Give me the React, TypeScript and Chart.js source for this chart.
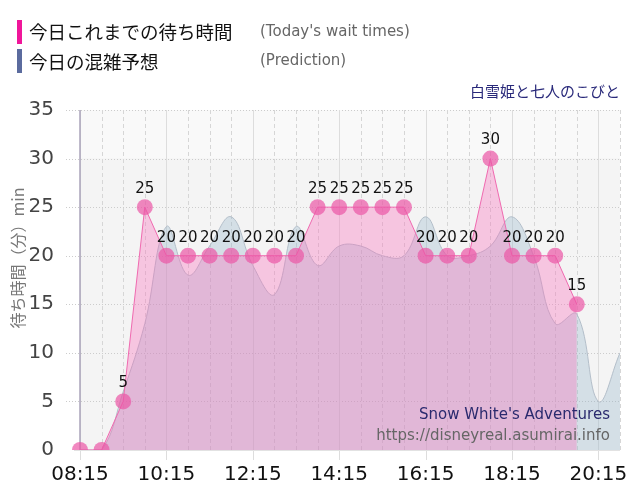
import { useEffect, useRef } from "react";
import { Chart, registerables } from "chart.js";

Chart.register(...registerables);

const times = [
  "08:15", "08:45", "09:15", "09:45", "10:15", "10:45", "11:15", "11:45",
  "12:15", "12:45", "13:15", "13:45", "14:15", "14:45", "15:15", "15:45",
  "16:15", "16:45", "17:15", "17:45", "18:15", "18:45", "19:15", "19:45",
  "20:15", "20:45",
];

// today's actual wait (min)
const waitTimes = [
  0, 0, 5, 25, 20, 20, 20, 20, 20, 20, 20, 25, 25, 25, 25, 25, 20, 20, 20, 30,
  20, 20, 20, 15, null, null,
];

// predicted congestion (min)
const prediction = [
  0, 0, 6, 13, 23, 18, 21, 24, 19, 16, 23, 19, 21, 21, 20, 20, 24, 20, 20, 21,
  24, 20, 13, 14, 5, 10,
];

const yTicks = [0, 5, 10, 15, 20, 25, 30, 35];

const LATIN = "'DejaVu Sans', sans-serif";
const CJK = "'Noto Sans CJK JP', sans-serif";

const backdrop = {
  id: "backdrop",
  beforeDatasetsDraw(chart: any) {
    const { ctx, chartArea: a, scales } = chart;
    const x = scales.x;
    const y = scales.y;
    ctx.save();
    ctx.fillStyle = "#f4f4f4";
    ctx.fillRect(a.left, a.top, a.right - a.left, a.bottom - a.top);
    ctx.fillStyle = "#f9f9f9";
    ctx.fillRect(a.left, a.top, a.right - a.left, y.getPixelForValue(30) - a.top);

    ctx.lineWidth = 1;
    // horizontal dotted lines
    ctx.strokeStyle = "#cccccc";
    ctx.setLineDash([1, 2]);
    yTicks.forEach((v) => {
      if (v === 0) return;
      const py = Math.round(y.getPixelForValue(v)) + 0.5;
      ctx.beginPath();
      ctx.moveTo(a.left - 14, py);
      ctx.lineTo(a.right, py);
      ctx.stroke();
    });

    // vertical lines
    times.forEach((_, i) => {
      const px = Math.round(x.getPixelForValue(i)) + 0.5;
      ctx.beginPath();
      if (i % 4 === 0) {
        ctx.setLineDash([]);
        ctx.strokeStyle = "#dddddd";
        ctx.moveTo(px, a.top);
        ctx.lineTo(px, a.bottom + 10);
      } else {
        ctx.setLineDash([4, 3]);
        ctx.strokeStyle = "#d6d6d6";
        ctx.moveTo(px, a.top);
        ctx.lineTo(px, a.bottom);
      }
      ctx.stroke();
    });

    ctx.setLineDash([]);
    const by = Math.round(a.bottom) + 0.5;
    ctx.strokeStyle = "#e2e2e2";
    ctx.beginPath();
    ctx.moveTo(a.left - 6, by);
    ctx.lineTo(a.right, by);
    ctx.stroke();

    ctx.strokeStyle = "#aaa3ba";
    ctx.lineWidth = 1.5;
    ctx.beginPath();
    ctx.moveTo(a.left, a.top);
    ctx.lineTo(a.left, a.bottom);
    ctx.stroke();
    ctx.restore();
  },
};

const valueLabels = {
  id: "valueLabels",
  afterDatasetsDraw(chart: any) {
    const { ctx } = chart;
    const meta = chart.getDatasetMeta(0);
    ctx.save();
    ctx.fillStyle = "#111111";
    ctx.font = `15px ${LATIN}`;
    ctx.textAlign = "center";
    ctx.textBaseline = "middle";
    meta.data.forEach((pt: any, i: number) => {
      const v = waitTimes[i];
      if (v === null || v === 0) return;
      ctx.fillText(String(v), pt.x, pt.y - 18);
    });
    ctx.restore();
  },
};

const yTitle = {
  id: "yTitle",
  afterDraw(chart: any) {
    const { ctx } = chart;
    ctx.save();
    ctx.translate(18, 258);
    ctx.rotate(-Math.PI / 2);
    ctx.fillStyle = "#777777";
    ctx.font = `16px ${CJK}`;
    ctx.textAlign = "center";
    ctx.textBaseline = "middle";
    ctx.fillText("待ち時間（分）min", 0, 0);
    ctx.restore();
  },
};

const WaitChart = () => {
  const chartRef = useRef<HTMLCanvasElement>(null);

  useEffect(() => {
    document.body.style.margin = "0";
    if (!chartRef.current) return;
    const ctx = chartRef.current.getContext("2d");
    if (!ctx) return;
    const chart = new Chart(ctx, {
      type: "line",
      data: {
        labels: times,
        datasets: [
          {
            label: "今日これまでの待ち時間",
            data: waitTimes,
            order: 1,
            borderColor: "#f06ab0",
            borderWidth: 1,
            backgroundColor: "rgba(250,110,185,0.35)",
            fill: "origin",
            tension: 0,
            pointRadius: 8,
            pointBorderWidth: 0,
            pointBackgroundColor: "rgba(235,85,165,0.7)",
            spanGaps: false,
          },
          {
            label: "今日の混雑予想",
            data: prediction,
            order: 2,
            borderColor: "#b3bec9",
            borderWidth: 1,
            backgroundColor: "rgba(140,175,200,0.3)",
            fill: "origin",
            tension: 0.4,
            pointRadius: 0,
          },
        ],
      },
      options: {
        animation: false,
        responsive: true,
        maintainAspectRatio: false,
        layout: { padding: { top: 110, right: 20, left: 0, bottom: 0 } },
        plugins: {
          legend: { display: false },
          tooltip: { enabled: false },
        },
        scales: {
          x: {
            grid: { display: false },
            border: { display: false },
            ticks: {
              autoSkip: false,
              maxRotation: 0,
              padding: 5,
              color: "#111111",
              font: { family: LATIN, size: 20 },
              callback: (_v: any, i: number) => (i % 4 === 0 ? times[i] : ""),
            },
            afterFit: (s: any) => {
              s.height = 50;
            },
          },
          y: {
            min: 0,
            max: 35,
            grid: { display: false },
            border: { display: false },
            ticks: {
              stepSize: 5,
              padding: 18,
              color: "#444444",
              font: { family: LATIN, size: 20 },
            },
            afterFit: (s: any) => {
              s.width = 80;
            },
          },
        },
      },
      plugins: [backdrop, valueLabels, yTitle],
    });

    return () => chart.destroy();
  }, []);

  const bar = (color: string, top: number) => ({
    position: "absolute" as const,
    left: 17,
    top,
    width: 5,
    height: 24,
    background: color,
  });
  const jp = (top: number) => ({
    position: "absolute" as const,
    left: 29,
    top,
    fontFamily: CJK,
    fontSize: 18.5,
    lineHeight: "24px",
    color: "#111",
    whiteSpace: "nowrap" as const,
  });
  const en = (top: number) => ({
    position: "absolute" as const,
    left: 260,
    top,
    fontFamily: LATIN,
    fontSize: 15,
    lineHeight: "24px",
    color: "#666",
    whiteSpace: "nowrap" as const,
  });

  return (
    <div style={{ position: "relative", width: 640, height: 500, background: "#fff" }}>
      <canvas ref={chartRef} style={{ position: "absolute", left: 0, top: 0 }}></canvas>
      <div style={{ position: "absolute", left: 0, top: 0, width: 640, height: 500 }}>
        <div style={bar("#f0169a", 20)} />
        <div style={jp(19)}>今日これまでの待ち時間</div>
        <div style={en(19)}>(Today's wait times)</div>
        <div style={bar("#5b6b9e", 49)} />
        <div style={jp(49)}>今日の混雑予想</div>
        <div style={en(48)}>(Prediction)</div>
        <div
          style={{
            position: "absolute",
            right: 20,
            top: 80,
            fontFamily: CJK,
            fontSize: 15,
            lineHeight: "22px",
            color: "#29297a",
            whiteSpace: "nowrap",
          }}
        >
          白雪姫と七人のこびと
        </div>
        <div
          style={{
            position: "absolute",
            right: 30,
            top: 404,
            textAlign: "right",
            fontFamily: LATIN,
            fontSize: 15,
            lineHeight: "21px",
            whiteSpace: "nowrap",
          }}
        >
          <div style={{ color: "#2a2a6e" }}>Snow White's Adventures</div>
          <div style={{ color: "#666666" }}>https://disneyreal.asumirai.info</div>
        </div>
      </div>
    </div>
  );
};

export default function App() {
  return <WaitChart />;
}
